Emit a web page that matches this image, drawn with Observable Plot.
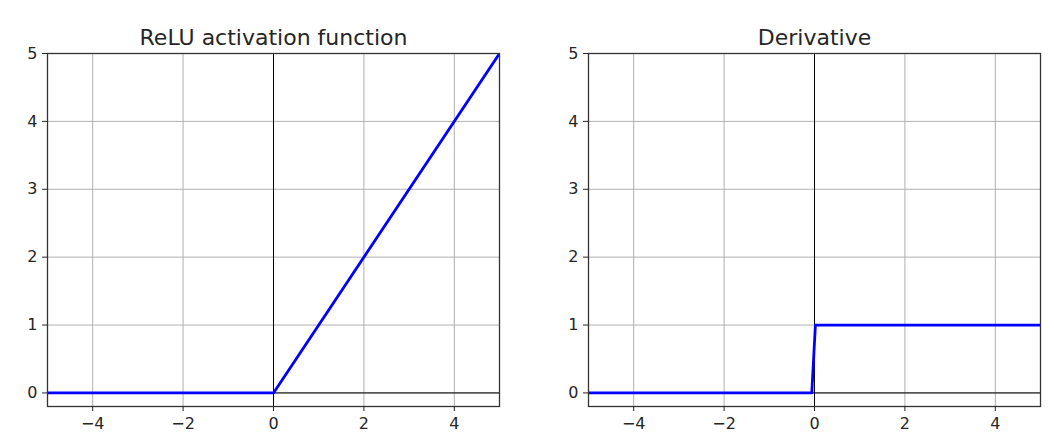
<!DOCTYPE html>
<html>
<head>
<meta charset="utf-8">
<script src="https://cdn.jsdelivr.net/npm/d3@7"></script>
<script src="https://cdn.jsdelivr.net/npm/@observablehq/plot@0.6"></script>
<style>
  html, body { margin: 0; padding: 0; background: #fff; }
  #wrap { position: relative; width: 1054px; height: 444px; overflow: hidden; }
  #wrap svg { position: absolute; top: 0; }
</style>
</head>
<body>
<div id="wrap"></div>
<script>
// Data
const reluX = [-5, 0, 5];
const reluY = [0, 0, 5];
const derivX = [-5, -0.06, 0.02, 5];
const derivY = [0, 0, 1, 1];
const xTicks = [-4, -2, 0, 2, 4];
const yTicks = [0, 1, 2, 3, 4, 5];
const titles = ["ReLU activation function", "Derivative"];

const toRows = (xs, ys) => xs.map((x, i) => ({x, y: ys[i]}));
const fmt = d3.format("d");

function panel(title, rows, opts) {
  return Plot.plot({
    width: opts.width,
    height: 444,
    marginLeft: opts.ml,
    marginRight: opts.mr,
    marginTop: 53,
    marginBottom: 38,
    style: {fontFamily: "DejaVu Sans", fontSize: "16px", color: "#262626", background: "white", overflow: "visible"},
    x: {domain: [-5, 5], label: null},
    y: {domain: [-0.2, 5], label: null},
    marks: [
      Plot.gridX(xTicks, {stroke: "#b0b0b0", strokeOpacity: 1, strokeWidth: 1}),
      Plot.gridY(yTicks, {stroke: "#b0b0b0", strokeOpacity: 1, strokeWidth: 1}),
      Plot.ruleX([0], {stroke: "black", strokeWidth: 1}),
      Plot.ruleY([0], {stroke: "black", strokeWidth: 1}),
      Plot.line(rows, {x: "x", y: "y", stroke: "#0000ff", strokeWidth: 2.8, clip: true}),
      Plot.frame({stroke: "#333", strokeWidth: 1.3}),
      Plot.axisX({ticks: xTicks, tickFormat: fmt, tickSize: 5, tickPadding: 6, label: null, fontSize: 16}),
      Plot.axisY({ticks: yTicks, tickFormat: fmt, tickSize: 5, tickPadding: 5, label: null, fontSize: 16}),
      Plot.text([title], {text: d => d, frameAnchor: "top", lineAnchor: "middle", dy: -16, fontSize: 22, fill: "#262626"})
    ]
  });
}

const wrap = document.getElementById("wrap");
const left = panel(titles[0], toRows(reluX, reluY), {width: 520, ml: 47, mr: 21});
left.style.left = "0px";
const right = panel(titles[1], toRows(derivX, derivY), {width: 514, ml: 48, mr: 14});
right.style.left = "540px";
wrap.appendChild(left);
wrap.appendChild(right);
</script>
</body>
</html>
